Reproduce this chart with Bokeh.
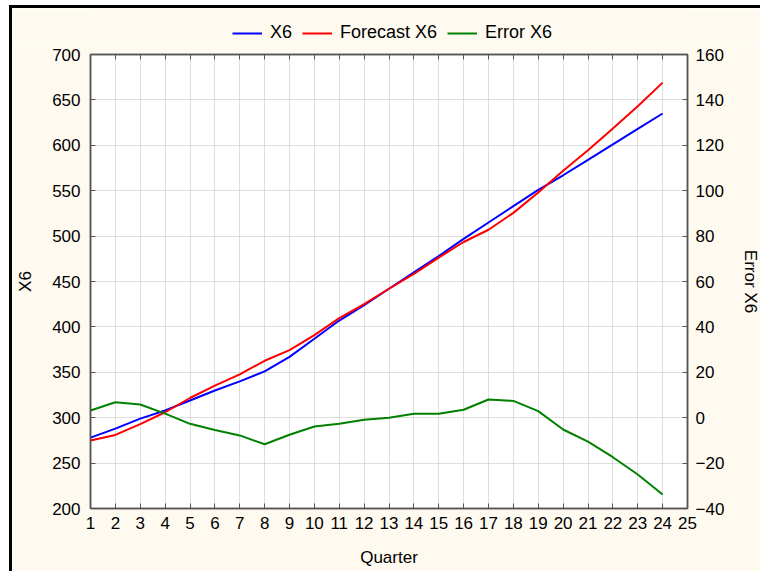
from bokeh.plotting import figure
from bokeh.models import Range1d, LinearAxis, Legend, LegendItem, FixedTicker
from bokeh.layouts import column
from bokeh.embed import file_html
from bokeh.resources import INLINE

quarters = list(range(1, 25))
x_ticks = list(range(1, 26))
left_ticks = [200, 250, 300, 350, 400, 450, 500, 550, 600, 650, 700]
right_ticks = [-40, -20, 0, 20, 40, 60, 80, 100, 120, 140, 160]
series_names = ["X6", "Forecast X6", "Error X6"]
series_colors = ["#0000FF", "#FF0000", "#008000"]

x6 = [278, 288, 299, 308, 319, 330, 340, 351, 367, 387, 407, 424,
      442, 460, 478, 497, 515, 533, 551, 567, 584, 601, 618, 635]
forecast_x6 = [274.8, 281, 293, 306, 321.7, 335.4, 347.8, 362.7, 374.5, 390.9, 409.7, 425,
               442, 458.3, 476.3, 493.5, 507, 525.6, 548, 572, 594.5, 618.4, 643, 669]
error_x6 = [3.2, 6.8, 5.8, 1.8, -2.7, -5.4, -7.8, -11.7, -7.5, -3.9, -2.7, -0.9,
            0.0, 1.7, 1.7, 3.5, 8.0, 7.4, 2.9, -5.2, -10.5, -17.4, -25.0, -33.8]
series_values = [x6, forecast_x6, error_x6]

FONT = "Liberation Sans"
FS = "17px"
AX = "#555555"
CREAM = "#FFFAF0"
BORDER = "3px solid black"

# ---- legend strip (top) ----
lf = figure(width=751, height=39, output_backend="svg", toolbar_location=None,
            x_range=Range1d(0, 1), y_range=Range1d(0, 1),
            min_border_left=0, min_border_right=0, min_border_top=0, min_border_bottom=0,
            background_fill_color=CREAM, border_fill_color=CREAM)
lf.axis.visible = False
lf.grid.visible = False
lf.outline_line_color = None
lf.styles = {"border-top": BORDER, "border-left": BORDER}
items = []
for name, col, vals in zip(series_names, series_colors, series_values):
    # series drawn outside this strip's ranges: only the legend swatch shows
    r = lf.line(quarters, vals, line_color=col, line_width=2)
    items.append(LegendItem(label=name, renderers=[r]))
legend = Legend(items=items, orientation="horizontal", location=(142, 4),
                border_line_color=None, background_fill_alpha=0,
                padding=0, margin=0, glyph_width=30, glyph_height=20,
                label_height=20, label_standoff=8, spacing=10,
                label_text_font=FONT, label_text_font_size="18px",
                label_text_color="black")
lf.add_layout(legend)

# ---- main chart ----
p = figure(width=751, height=527, output_backend="svg", toolbar_location=None,
           x_range=Range1d(1, 25), y_range=Range1d(200, 700),
           min_border_left=78, min_border_right=70, min_border_top=10, min_border_bottom=63,
           background_fill_color="white", border_fill_color=CREAM,
           x_axis_label="Quarter", y_axis_label="X6")
p.styles = {"border-left": BORDER}
p.extra_y_ranges = {"err": Range1d(-40, 160)}
p.outline_line_color = AX
p.outline_line_width = 1.5

def style_axis(ax, standoff, label_standoff):
    ax.axis_line_color = AX
    ax.axis_line_width = 1.5
    ax.major_tick_in = 5
    ax.major_tick_out = 0
    ax.major_tick_line_color = AX
    ax.minor_tick_line_color = None
    ax.major_label_text_font = FONT
    ax.major_label_text_font_size = FS
    ax.major_label_text_color = "black"
    ax.major_label_standoff = standoff
    ax.axis_label_text_font = FONT
    ax.axis_label_text_font_size = FS
    ax.axis_label_text_font_style = "normal"
    ax.axis_label_text_color = "black"
    ax.axis_label_standoff = label_standoff

p.xaxis.ticker = FixedTicker(ticks=x_ticks)
p.yaxis.ticker = FixedTicker(ticks=left_ticks)
style_axis(p.xaxis[0], 8, 16)
style_axis(p.yaxis[0], 10, 14)

right = LinearAxis(y_range_name="err", axis_label="Error X6",
                   ticker=FixedTicker(ticks=right_ticks))
style_axis(right, 8, 14)
p.add_layout(right, "right")

top = LinearAxis(ticker=FixedTicker(ticks=x_ticks),
                 major_label_overrides={t: "" for t in x_ticks})
style_axis(top, 0, 0)
top.major_label_text_font_size = "0px"
p.add_layout(top, "above")

p.xgrid.grid_line_color = "#bdbdbd"
p.ygrid.grid_line_color = "#bdbdbd"
p.xgrid.grid_line_dash = "1 1"
p.ygrid.grid_line_dash = "1 1"
p.xgrid.ticker = FixedTicker(ticks=x_ticks)
p.ygrid.ticker = FixedTicker(ticks=left_ticks)

p.line(quarters, x6, line_color=series_colors[0], line_width=2)
p.line(quarters, forecast_x6, line_color=series_colors[1], line_width=2)
p.line(quarters, error_x6, line_color=series_colors[2], line_width=2, y_range_name="err")

layout = column(lf, p, spacing=0)
layout.styles = {"margin-left": "9px", "margin-top": "5px"}

open("out.html", "w").write(file_html(layout, INLINE))
